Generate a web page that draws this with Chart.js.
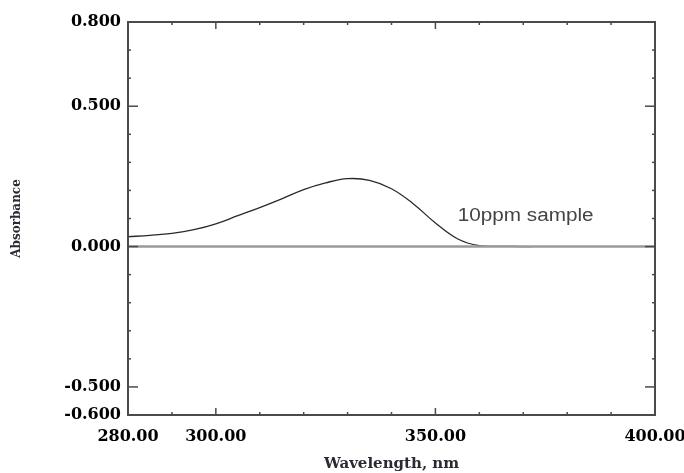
<!DOCTYPE html>
<html>
<head>
<meta charset="utf-8">
<script src="https://cdn.jsdelivr.net/npm/chart.js@4.4.0/dist/chart.umd.min.js"></script>
<style>
  html, body { margin: 0; padding: 0; background: #fff; overflow: hidden; }
  #wrap { position: relative; width: 700px; height: 473px; }
</style>
</head>
<body>
<div id="wrap"><canvas id="uvChart"></canvas></div>
<script>
// Spectrum values
const wavelengths = [280, 285, 290, 295, 300, 305, 310, 315, 320, 325, 330, 335, 340, 345, 350, 355, 360, 365, 370, 372];
const absorbance  = [0.035, 0.040, 0.047, 0.060, 0.081, 0.110, 0.139, 0.170, 0.203, 0.227, 0.242, 0.236, 0.206, 0.152, 0.084, 0.028, 0.003, 0.001, 0.000, 0.000];

// zero line across the whole plot
const baselineX = [280, 400];
const baselineY = [0, 0];

// axis ticks
const xTickLabels = [280, 300, 350, 400];
const yTickLabels = [-0.6, -0.5, 0, 0.5, 0.8];
const xMajorTicks = [300, 350];
const xMinorTicks = [290, 310, 320, 330, 340, 360, 370, 380, 390];
const yMajorTicks = [0.5, 0, -0.5];
const yMinorTicks = [0.7, 0.6, 0.4, 0.3, 0.2, 0.1, -0.1, -0.2, -0.3, -0.4];

const sampleLabel = '10ppm sample';
const sampleLabelPos = { x: 355.1, y: 0.11 };

const tickFont = { family: '"DejaVu Serif", serif', size: 16, weight: 'bold' };

// Frame box, inward ticks and the sample label
const framePlugin = {
    id: 'frame',
    afterDatasetsDraw(chart) {
        const { ctx, chartArea: a, scales: { x, y } } = chart;
        ctx.save();
        ctx.strokeStyle = '#4a4a4a';
        ctx.lineWidth = 2;
        ctx.strokeRect(a.left, a.top, a.right - a.left, a.bottom - a.top);

        const tick = (x1, y1, x2, y2) => {
            ctx.beginPath(); ctx.moveTo(x1, y1); ctx.lineTo(x2, y2); ctx.stroke();
        };
        ctx.lineWidth = 1.5;
        xMajorTicks.forEach(v => {
            const px = x.getPixelForValue(v);
            tick(px, a.bottom, px, a.bottom - 7);
            tick(px, a.top, px, a.top + 7);
        });
        xMinorTicks.forEach(v => {
            const px = x.getPixelForValue(v);
            tick(px, a.bottom, px, a.bottom - 3);
            tick(px, a.top, px, a.top + 3);
        });
        yMajorTicks.forEach(v => {
            const py = y.getPixelForValue(v);
            tick(a.left, py, a.left + 10, py);
            tick(a.right, py, a.right - 10, py);
        });
        yMinorTicks.forEach(v => {
            const py = y.getPixelForValue(v);
            tick(a.left, py, a.left + 3, py);
            tick(a.right, py, a.right - 3, py);
        });

        // label next to the curve (glyphs are stretched wide in the original)
        ctx.fillStyle = '#444';
        ctx.font = '18px "Liberation Sans", Arial, sans-serif';
        ctx.textBaseline = 'middle';
        ctx.textAlign = 'left';
        ctx.translate(x.getPixelForValue(sampleLabelPos.x), y.getPixelForValue(sampleLabelPos.y));
        ctx.scale(1.15, 1);
        ctx.fillText(sampleLabel, 0, 0);
        ctx.restore();
    }
};

new Chart(document.getElementById('uvChart'), {
    type: 'line',
    data: {
        datasets: [
            {
                label: 'baseline',
                data: baselineX.map((v, i) => ({ x: v, y: baselineY[i] })),
                borderColor: '#9a9a9a',
                borderWidth: 2.5,
                pointRadius: 0,
                tension: 0
            },
            {
                label: sampleLabel,
                data: wavelengths.map((v, i) => ({ x: v, y: absorbance[i] })),
                borderColor: '#2a2a2a',
                borderWidth: 1.3,
                pointRadius: 0,
                tension: 0.4
            }
        ]
    },
    options: {
        responsive: true,
        maintainAspectRatio: false,
        animation: false,
        layout: { padding: { top: 22, right: 45, left: 0, bottom: 0 } },
        plugins: { legend: { display: false }, tooltip: { enabled: false } },
        scales: {
            x: {
                type: 'linear',
                min: 280,
                max: 400,
                grid: { display: false, drawTicks: false },
                border: { display: false },
                afterBuildTicks: s => { s.ticks = xTickLabels.map(v => ({ value: v })); },
                afterFit: s => { s.height = 58; },
                ticks: {
                    autoSkip: false,
                    maxRotation: 0,
                    padding: 12,
                    color: '#000',
                    font: tickFont,
                    callback: v => Number(v).toFixed(2)
                },
                title: {
                    display: true,
                    text: 'Wavelength, nm',
                    color: '#2a2a33',
                    font: { family: '"DejaVu Serif", serif', size: 15, weight: 'bold' },
                    padding: { top: 0, bottom: 0 }
                }
            },
            y: {
                min: -0.6,
                max: 0.8,
                grid: { display: false, drawTicks: false },
                border: { display: false },
                afterBuildTicks: s => { s.ticks = yTickLabels.map(v => ({ value: v })); },
                afterFit: s => { s.width = 128; },
                ticks: {
                    padding: 7,
                    color: '#000',
                    font: tickFont,
                    callback: v => Number(v).toFixed(3)
                },
                title: {
                    display: true,
                    text: 'Absorbance',
                    color: '#2a2a33',
                    font: { family: '"DejaVu Serif", serif', size: 12, weight: 'bold' },
                    padding: { top: 10, bottom: 0 }
                }
            }
        }
    },
    plugins: [framePlugin]
});
</script>
</body>
</html>
